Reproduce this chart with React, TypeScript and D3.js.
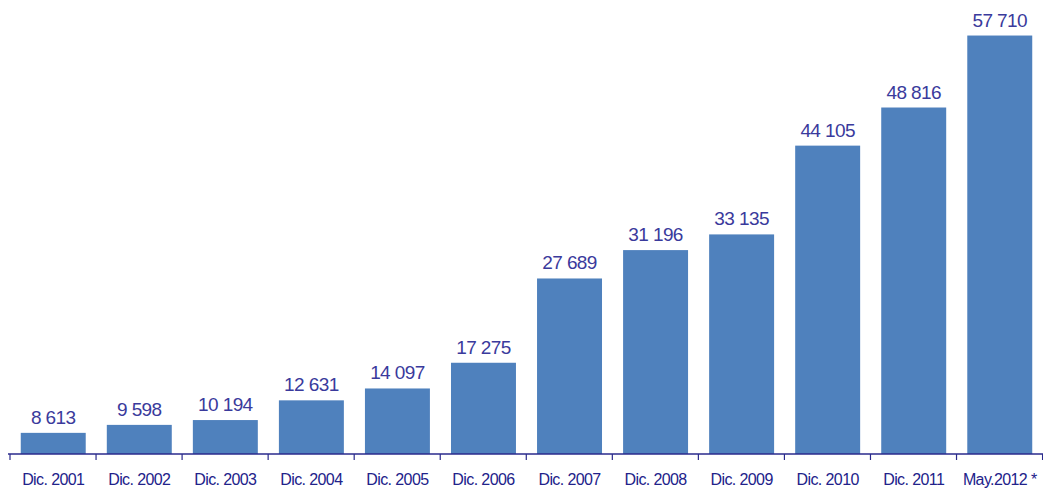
import React from "react";
import * as d3 from "d3";

const categories = ["Dic. 2001","Dic. 2002","Dic. 2003","Dic. 2004","Dic. 2005","Dic. 2006","Dic. 2007","Dic. 2008","Dic. 2009","Dic. 2010","Dic. 2011","May.2012 *"];
const values = [8613, 9598, 10194, 12631, 14097, 17275, 27689, 31196, 33135, 44105, 48816, 57710];
const yDomain = [6000, 60000];

const W = 1043, H = 489;
const left = 10, right = 1043, baseY = 454, topY = 17;
const barColor = "#4F81BD";
const valueColor = "#3A3A9C";
const tickColor = "#22228A";
const axisColor = "#2A2A8C";

const fmt = (v: number) => d3.format(",")(v).replace(/,/g, " ");

export default function App() {
  const x = d3.scaleBand<string>().domain(categories).range([left, right]).paddingInner(0.245).paddingOuter(0.125);
  const y = d3.scaleLinear().domain(yDomain).range([baseY, topY]);
  const step = x.step();
  const ticks = categories.map((_, i) => left + i * step).concat([left + categories.length * step]);
  return (
    <svg width={W} height={H} style={{ position: "absolute", left: 0, top: 0, fontFamily: "'Liberation Sans', Arial, sans-serif" }}>
      {categories.map((c, i) => {
        const v = values[i];
        const bx = x(c)!;
        const by = y(v);
        return (
          <g key={c}>
            <rect x={bx} y={by} width={x.bandwidth()} height={baseY - by} fill={barColor} />
            <text x={bx + x.bandwidth() / 2} y={by - 9} textAnchor="middle" fontSize={19} letterSpacing={-0.6} fill={valueColor}>{fmt(v)}</text>
            <text x={bx + x.bandwidth() / 2} y={485} textAnchor="middle" fontSize={16} letterSpacing={-0.6} fill={tickColor}>{c}</text>
          </g>
        );
      })}
      <line x1={8} x2={W} y1={baseY} y2={baseY} stroke={axisColor} strokeWidth={1.5} />
      {ticks.map((t, i) => (
        <line key={i} x1={t} x2={t} y1={baseY} y2={baseY + 6} stroke={axisColor} strokeWidth={1.2} />
      ))}
    </svg>
  );
}
